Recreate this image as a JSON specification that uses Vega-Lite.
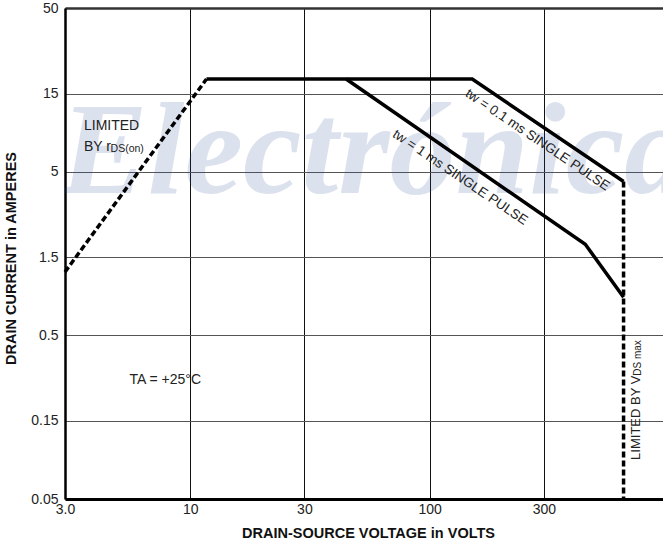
{
  "$schema": "https://vega.github.io/schema/vega-lite/v6.json",
  "width": 598,
  "height": 491,
  "autosize": {"type": "none"},
  "padding": {"left": 65, "top": 8, "right": 0, "bottom": 45},
  "background": "white",
  "config": {"view": {"stroke": null}, "font": "Liberation Sans"},
  "datasets": {
    "curves": [
      {"series": "rds", "x": 3, "y": 1.22},
      {"series": "rds", "x": 11.7, "y": 18.4},
      {"series": "p01", "x": 11.7, "y": 18.4},
      {"series": "p01", "x": 150.7, "y": 18.4},
      {"series": "p01", "x": 646, "y": 4.35},
      {"series": "p1", "x": 44.8, "y": 18.4},
      {"series": "p1", "x": 447, "y": 1.8},
      {"series": "p1", "x": 646, "y": 0.855},
      {"series": "vds", "x": 646, "y": 4.35},
      {"series": "vds", "x": 646, "y": 0.05}
    ]
  },
  "encoding": {
    "x": {
      "field": "x",
      "type": "quantitative",
      "scale": {"type": "log", "domain": [3, 944], "nice": false, "zero": false},
      "axis": {
        "title": "DRAIN-SOURCE VOLTAGE in VOLTS",
        "values": [3, 10, 30, 100, 300],
        "labelExpr": "datum.value == 3 ? '3.0' : format(datum.value, 'd')",
        "ticks": false,
        "grid": true,
        "gridColor": "#111",
        "gridWidth": 1,
        "gridOpacity": 1,
        "domainColor": "#000",
        "domainWidth": 3,
        "labelFont": "Liberation Sans",
        "labelFontSize": 14,
        "labelColor": "#222",
        "labelPadding": 3,
        "labelFlush": false,
        "labelOverlap": false,
        "titleFont": "Liberation Sans",
        "titleFontSize": 14.5,
        "titleFontWeight": "bold",
        "titleColor": "#111",
        "titleX": 303,
        "titleY": 38,
        "titleBaseline": "alphabetic"
      }
    },
    "y": {
      "field": "y",
      "type": "quantitative",
      "scale": {"type": "log", "domain": [0.05, 50], "nice": false, "zero": false},
      "axis": {
        "title": "DRAIN CURRENT in AMPERES",
        "values": [0.05, 0.15, 0.5, 1.5, 5, 15, 50],
        "format": "~g",
        "ticks": false,
        "grid": true,
        "gridColor": {"condition": {"test": "datum.value == 50", "value": "#333"}, "value": "#555"},
        "gridWidth": {"condition": {"test": "datum.value == 50", "value": 2.5}, "value": 1},
        "gridOpacity": 1,
        "domainColor": "#000",
        "domainWidth": 2.5,
        "labelFont": "Liberation Sans",
        "labelFontSize": 14,
        "labelColor": "#222",
        "labelPadding": 7,
        "labelFlush": false,
        "labelOverlap": false,
        "titleFont": "Liberation Sans",
        "titleFontSize": 14.5,
        "titleFontWeight": "bold",
        "titleColor": "#111",
        "titleAngle": 270,
        "titleX": -54,
        "titleY": 250,
        "titleBaseline": "middle"
      }
    }
  },
  "layer": [
    {
      "data": {"values": [{"x": 2.85, "y": 3.7, "text": "Electrónica"}]},
      "mark": {"type": "text", "font": "Liberation Serif", "fontWeight": "bold", "fontStyle": "italic", "fontSize": 132, "align": "left", "baseline": "alphabetic", "color": "#2a4a9a", "opacity": 0.16, "clip": true},
      "encoding": {"text": {"field": "text"}}
    },
    {
      "data": {"name": "curves"},
      "transform": [{"filter": "datum.series == 'rds' || datum.series == 'vds'"}],
      "mark": {"type": "line", "color": "#000", "strokeWidth": 3.5, "strokeDash": [6, 3], "strokeCap": "butt"},
      "encoding": {"detail": {"field": "series"}}
    },
    {
      "data": {"name": "curves"},
      "transform": [{"filter": "datum.series == 'p01' || datum.series == 'p1'"}],
      "mark": {"type": "line", "color": "#000", "strokeWidth": 3.5, "strokeJoin": "miter"},
      "encoding": {"detail": {"field": "series"}}
    },
    {
      "data": {"values": [
        {"x": 3.6, "y": 8.93, "text": "LIMITED"},
        {"x": 3.6, "y": 6.69, "text": "BY r"},
        {"x": 5.58, "y": 0.2524, "text": "TA = +25°C"}
      ]},
      "mark": {"type": "text", "fontSize": 14, "align": "left", "baseline": "alphabetic", "color": "#222"},
      "encoding": {"text": {"field": "text"}}
    },
    {
      "data": {"values": [{"x": 4.65, "y": 6.55, "text": "DS(on)"}]},
      "mark": {"type": "text", "fontSize": 10.5, "align": "left", "baseline": "alphabetic", "color": "#222"},
      "encoding": {"text": {"field": "text"}}
    },
    {
      "data": {"values": [
        {"x": 282, "y": 7.81, "text": "tw = 0.1 ms SINGLE PULSE"},
        {"x": 134, "y": 4.61, "text": "tw = 1 ms SINGLE PULSE"}
      ]},
      "mark": {"type": "text", "fontSize": 13.5, "angle": 34, "align": "center", "baseline": "middle", "color": "#222"},
      "encoding": {"text": {"field": "text"}}
    },
    {
      "data": {"values": [{"x": 725, "y": 0.0867, "text": "LIMITED BY V"}]},
      "mark": {"type": "text", "fontSize": 13, "angle": 270, "align": "left", "baseline": "middle", "color": "#222"},
      "encoding": {"text": {"field": "text"}}
    },
    {
      "data": {"values": [{"x": 742, "y": 0.283, "text": "DS max"}]},
      "mark": {"type": "text", "fontSize": 10, "angle": 270, "align": "left", "baseline": "middle", "color": "#222"},
      "encoding": {"text": {"field": "text"}}
    }
  ]
}
